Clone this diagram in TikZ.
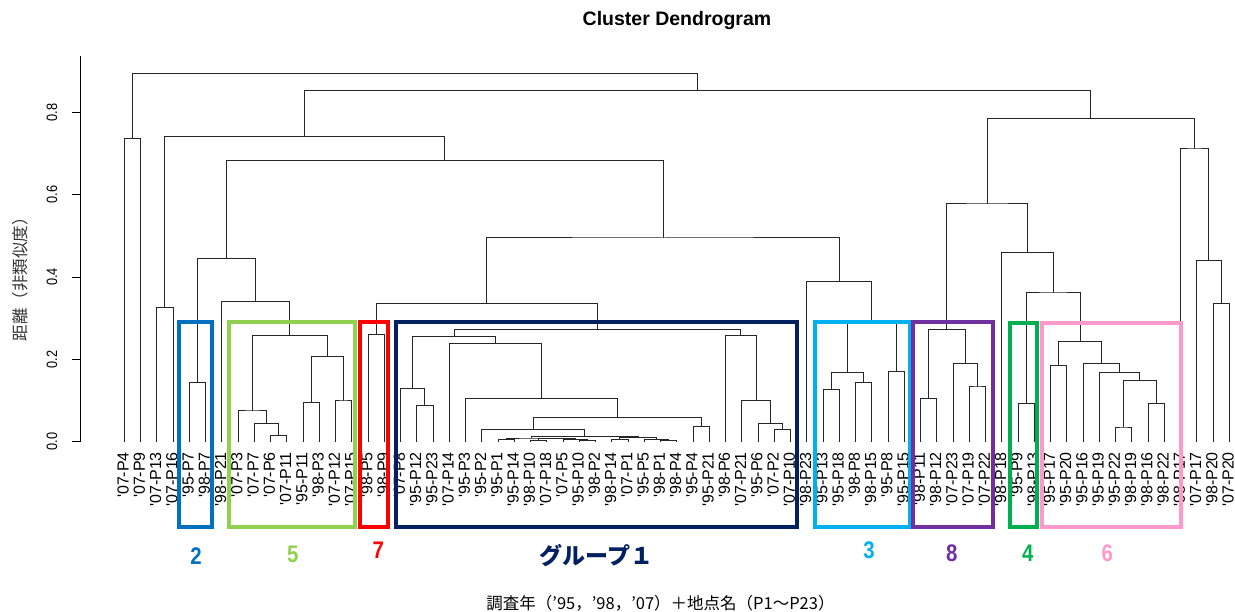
\documentclass[tikz,border=0pt]{standalone}
\usepackage{fontspec}
\usetikzlibrary{calc}
\newfontfamily\arialfont{Liberation Sans}
\newfontfamily\jpfont{Noto Sans CJK JP}
\definecolor{grpblue}{RGB}{0,112,192}
\definecolor{grplime}{RGB}{146,208,80}
\definecolor{grpred}{RGB}{255,0,0}
\definecolor{grpnavy}{RGB}{0,32,96}
\definecolor{grpcyan}{RGB}{0,176,240}
\definecolor{grppurple}{RGB}{112,48,160}
\definecolor{grpgreen}{RGB}{0,176,80}
\definecolor{grppink}{RGB}{255,153,204}
% merge: name, left child, right child, height
\newcommand{\merge}[4]{%
  \coordinate (#1-mid) at ($(#2)!0.5!(#3)$);
  \coordinate (#1-hgt) at (0,#4);
  \coordinate (#1) at (#1-mid |- #1-hgt);
  \draw[branch] (#2) |- (#1) -| (#3);
}
\begin{document}
\begin{tikzpicture}[x=1pt,y=-1pt,
    branch/.style={black!85,line width=1pt},
    grpbox/.style={line width=4pt},
    leaflab/.style={rotate=90,anchor=east,inner sep=0pt,font=\arialfont\fontsize{16}{16}\selectfont},
    ticklab/.style={rotate=90,inner sep=0pt,font=\arialfont\fontsize{15}{15}\selectfont},
    grplab/.style={inner sep=0pt,font=\arialfont\bfseries\fontsize{24}{24}\selectfont}]
    \useasboundingbox (0,0) rectangle (1235,611);
    \node[font=\arialfont\bfseries\fontsize{19.5}{19.5}\selectfont] (title) at (677,20) {Cluster Dendrogram};
    % y axis
    \draw[line width=1pt] (80,441.7) -- (80,55.7);
    \foreach \v/\yy [count=\k] in {0.0/441.7,0.2/359.4,0.4/277.0,0.6/194.7,0.8/112.3} {
        \draw[line width=1pt] (80,\yy) -- (72,\yy);
        \node[ticklab] (tick\k) at (52,\yy) {\scalebox{0.85}[1]{\v}};
    }
    \node[rotate=90,text=black!80,font=\jpfont\fontsize{16.5}{16.5}\selectfont] (ylab) at (20.5,275) {距離（非類似度）};
    \node[font=\jpfont\fontsize{16.5}{16.5}\selectfont] (xlab) at (660.5,603) {調査年（’95，’98，’07）＋地点名（P1～P23）};
    % tree, heights in data units
    \begin{scope}[shift={(0,441.7)},y=411.7pt]
        \foreach \lab [count=\i] in {'07-P4,'07-P9,'07-P13,'07-P16,'95-P7,'98-P7,'98-P21,'07-P3,'07-P7,'07-P6,'07-P11,'95-P11,'98-P3,'07-P12,'07-P15,'98-P5,'98-P9,'07-P8,'95-P12,'95-P23,'07-P14,'95-P3,'95-P2,'95-P1,'95-P14,'98-P10,'07-P18,'07-P5,'95-P10,'98-P2,'98-P14,'07-P1,'95-P5,'98-P1,'98-P4,'95-P4,'95-P21,'98-P6,'07-P21,'95-P6,'07-P2,'07-P10,'98-P23,'95-P13,'95-P18,'98-P8,'98-P15,'95-P8,'95-P15,'98-P11,'98-P12,'07-P23,'07-P19,'07-P22,'98-P18,'95-P9,'98-P13,'95-P17,'95-P20,'95-P16,'95-P19,'95-P22,'98-P19,'98-P16,'98-P22,'98-P17,'07-P17,'98-P20,'07-P20} {
            \coordinate (L\i) at ({124.3+(\i-1)*16.25},0);
            \node[leaflab] (t\i) at ({123+(\i-1)*16.25},-0.025) {\lab};
        }
        \merge{a1}{L1}{L2}{0.736}
        \merge{c1}{L3}{L4}{0.325}
        \merge{f1}{L5}{L6}{0.144}
        \merge{j3}{L10}{L11}{0.0155}
        \merge{j2}{L9}{j3}{0.045}
        \merge{j1}{L8}{j2}{0.0746}
        \merge{k1}{L12}{L13}{0.0947}
        \merge{k2}{L14}{L15}{0.0989}
        \merge{k}{k1}{k2}{0.208}
        \merge{i}{j1}{k}{0.2575}
        \merge{hh}{L7}{i}{0.341}
        \merge{f}{f1}{hh}{0.4455}
        \merge{l1}{L16}{L17}{0.261}
        \merge{p2}{L19}{L20}{0.0874}
        \merge{p1}{L18}{p2}{0.1287}
        \merge{t1}{L24}{L25}{0.006}
        \merge{t2}{L26}{L27}{0.004}
        \merge{t3}{L29}{L30}{0.002}
        \merge{t4}{L28}{t3}{0.005}
        \merge{t5}{t2}{t4}{0.007}
        \merge{tl}{t1}{t5}{0.009}
        \merge{t6}{L31}{L32}{0.006}
        \merge{t7}{L34}{L35}{0.002}
        \merge{t8}{L33}{t7}{0.005}
        \merge{tr}{t6}{t8}{0.010}
        \merge{tt}{tl}{tr}{0.012}
        \merge{q1}{L23}{tt}{0.0308}
        \merge{q2}{L36}{L37}{0.0364}
        \merge{q3}{q1}{q2}{0.0583}
        \merge{q4}{L22}{q3}{0.1044}
        \merge{q5}{L21}{q4}{0.238}
        \merge{p}{p1}{q5}{0.255}
        \merge{r3}{L41}{L42}{0.0308}
        \merge{r2}{L40}{r3}{0.0437}
        \merge{r1}{L39}{r2}{0.0996}
        \merge{r}{L38}{r1}{0.2575}
        \merge{o}{p}{r}{0.2737}
        \merge{l}{l1}{o}{0.336}
        \merge{n1}{L44}{L45}{0.1263}
        \merge{n2}{L46}{L47}{0.1443}
        \merge{n3}{n1}{n2}{0.1676}
        \merge{n4}{L48}{L49}{0.1717}
        \merge{n}{n3}{n4}{0.292}
        \merge{m}{L43}{n}{0.3886}
        \merge{g}{l}{m}{0.4948}
        \merge{e}{f}{g}{0.684}
        \merge{c}{c1}{e}{0.741}
        \merge{s1}{L50}{L51}{0.1054}
        \merge{s2}{L53}{L54}{0.1329}
        \merge{s3}{L52}{s2}{0.1904}
        \merge{s}{s1}{s3}{0.273}
        \merge{u1}{L56}{L57}{0.0923}
        \merge{v1}{L58}{L59}{0.1856}
        \merge{w1}{L62}{L63}{0.0357}
        \merge{w2}{L64}{L65}{0.0923}
        \merge{w3}{w1}{w2}{0.149}
        \merge{w4}{L61}{w3}{0.1686}
        \merge{w5}{L60}{w4}{0.1904}
        \merge{v}{v1}{w5}{0.2429}
        \merge{u}{u1}{v}{0.3612}
        \merge{x1}{L55}{u}{0.459}
        \merge{sx}{s}{x1}{0.5774}
        \merge{y1}{L68}{L69}{0.336}
        \merge{y2}{L67}{y1}{0.4406}
        \merge{y3}{L66}{y2}{0.711}
        \merge{d}{sx}{y3}{0.786}
        \merge{b}{c}{d}{0.8535}
        \merge{root}{a1}{b}{0.895}
    \end{scope}
    % group frames
    \draw[grpbox,grpblue] (178.5,321.5) rectangle (211.5,526.5);
    \draw[grpbox,grplime] (228.7,321.5) rectangle (355,526.5);
    \draw[grpbox,grpred] (360,321.5) rectangle (388,526.5);
    \draw[grpbox,grpnavy] (395.5,321.5) rectangle (796.5,526.5);
    \draw[grpbox,grpcyan] (814.5,321.5) rectangle (910,526.5);
    \draw[grpbox,grppurple] (913,321.5) rectangle (993,526.5);
    \draw[grpbox,grpgreen] (1010,323.3) rectangle (1036.5,526.5);
    \draw[grpbox,grppink] (1042,323.3) rectangle (1181,526.5);
    \node[grplab,grpblue] (lab2) at (196,556) {\scalebox{0.85}[1]{2}};
    \node[grplab,grplime] (lab5) at (292.7,554) {\scalebox{0.85}[1]{5}};
    \node[grplab,grpred] (lab7) at (378.3,550.7) {\scalebox{0.85}[1]{7}};
    \node[grplab,grpnavy,font=\jpfont\bfseries\fontsize{23}{23}\selectfont] (lab1) at (596.5,556) {グループ１};
    \node[grplab,grpcyan] (lab3) at (869,550.7) {\scalebox{0.85}[1]{3}};
    \node[grplab,grppurple] (lab8) at (951.7,553.3) {\scalebox{0.85}[1]{8}};
    \node[grplab,grpgreen] (lab4) at (1027.7,553.3) {\scalebox{0.85}[1]{4}};
    \node[grplab,grppink] (lab6) at (1107.3,553.3) {\scalebox{0.85}[1]{6}};
\end{tikzpicture}
\end{document}
